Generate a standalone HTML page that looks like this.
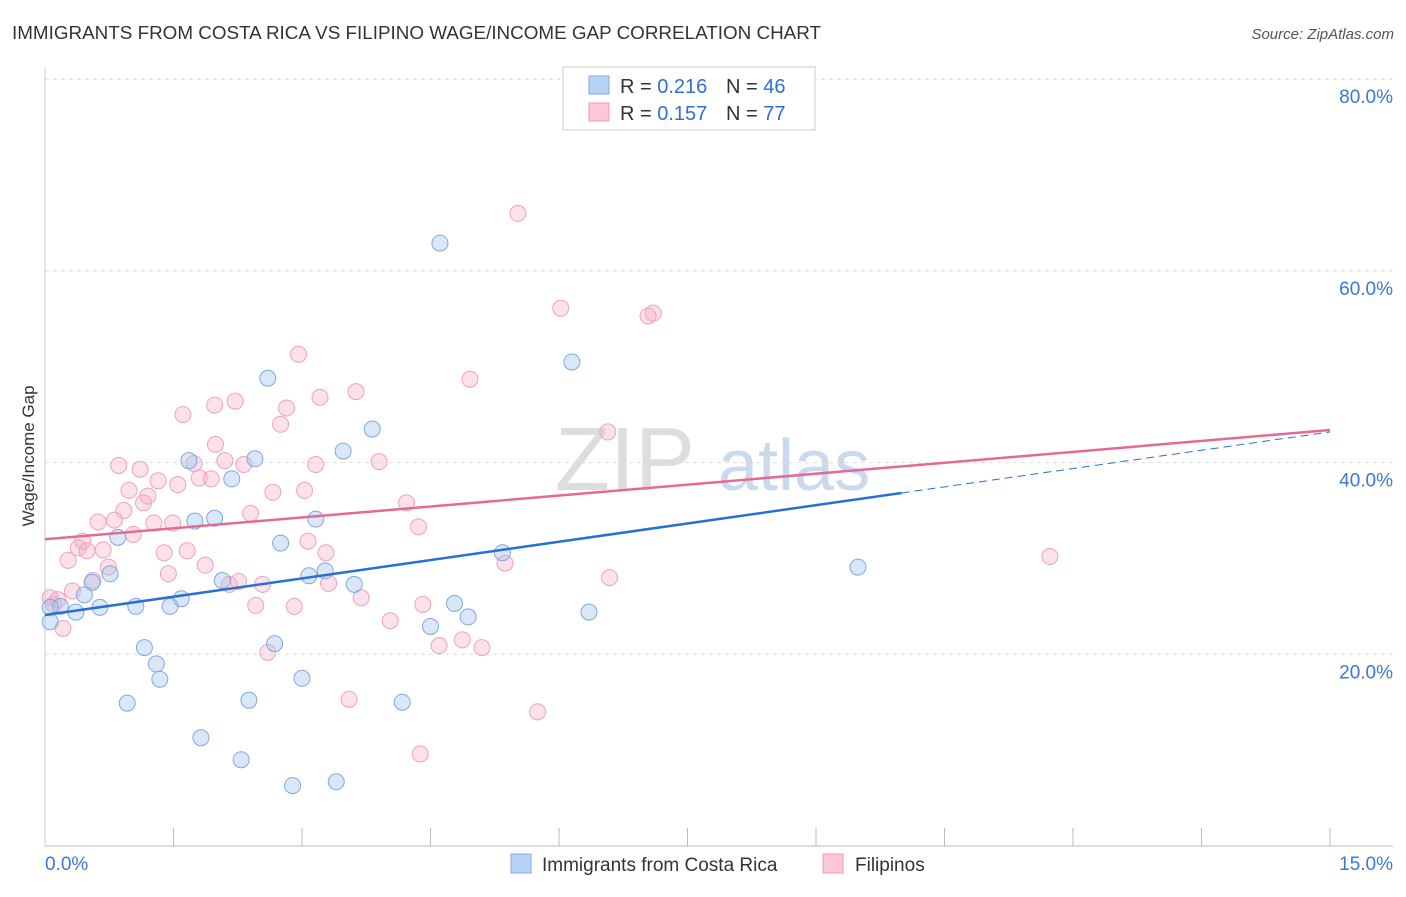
<!DOCTYPE html>
<html><head><meta charset="utf-8"><style>
body{margin:0;background:#fff;font-family:"Liberation Sans",sans-serif;}
svg text{font-family:"Liberation Sans",sans-serif;}
</style></head><body>
<svg id="c" width="1406" height="892" xmlns="http://www.w3.org/2000/svg">
<text x="12" y="39" font-size="18.5" fill="#333" textLength="809" lengthAdjust="spacingAndGlyphs">IMMIGRANTS FROM COSTA RICA VS FILIPINO WAGE/INCOME GAP CORRELATION CHART</text>
<text x="1394" y="39" font-size="15" fill="#555" text-anchor="end" font-style="italic">Source: ZipAtlas.com</text>
<text x="34" y="456" font-size="17" fill="#333" text-anchor="middle" transform="rotate(-90 34 456)">Wage/Income Gap</text>
<g><text x="555" y="490" font-size="90" fill="#ddd" font-family="Liberation Serif">ZIP</text><text x="718" y="490" font-size="72" fill="#c9d9ee">atlas</text></g>
<g id="grid"></g><g id="axes"></g><g id="pts"></g><g id="trend"></g>
<g>
<rect x="563" y="67" width="252" height="63" fill="#fff" stroke="#ccc"/>
<rect x="589" y="76" width="20" height="18" fill="#b8d3f5" stroke="#7fa9e0"/>
<rect x="589" y="103" width="20" height="18" fill="#fbc8d8" stroke="#ec9ab4"/>
<text x="620" y="93" font-size="20" fill="#333">R = <tspan fill="#2f6fd6">0.216</tspan></text>
<text x="726" y="93" font-size="20" fill="#333">N = <tspan fill="#2f6fd6">46</tspan></text>
<text x="620" y="120" font-size="20" fill="#333">R = <tspan fill="#2f6fd6">0.157</tspan></text>
<text x="726" y="120" font-size="20" fill="#333">N = <tspan fill="#2f6fd6">77</tspan></text>
</g>
<g>
<rect x="511" y="854" width="20" height="19" fill="#b8d3f5" stroke="#7fa9e0"/>
<text x="542" y="871" font-size="19" fill="#333">Immigrants from Costa Rica</text>
<rect x="823" y="854" width="20" height="19" fill="#fbc8d8" stroke="#ec9ab4"/>
<text x="855" y="871" font-size="19" fill="#333">Filipinos</text>
</g>
</svg>
<script>
const yTicks=[20,40,60,80];
const xTickLabels=["0.0%","15.0%"];
const blueX=[4.61,6.15,2.60,3.82,3.48,1.68,2.45,2.18,1.75,1.98,3.16,0.85,2.75,5.34,9.49,0.76,3.27,3.08,2.07,3.61,0.55,0.46,1.59,1.46,1.06,0.64,4.78,0.36,4.94,6.35,4.50,0.18,0.06,0.06,2.68,1.16,1.30,1.34,3.00,0.96,2.38,4.17,1.82,2.29,2.89,3.40];
const blueY=[62.9,50.5,48.8,43.5,41.2,40.2,40.4,38.3,33.9,34.2,34.1,32.2,31.6,30.6,29.1,28.4,28.7,28.2,27.7,27.3,27.5,26.2,25.8,25.0,25.0,24.9,25.3,24.4,23.9,24.4,22.9,25.0,24.9,23.4,21.1,20.7,19.0,17.4,17.5,14.9,15.2,15.0,11.3,9.0,6.3,6.7];
const pinkX=[5.52,6.02,7.10,7.04,2.96,4.96,3.63,3.21,2.22,1.98,2.82,1.61,2.75,6.57,1.99,2.10,1.74,2.32,3.16,3.90,0.86,1.11,1.32,1.80,1.94,1.55,0.98,2.66,3.03,1.20,1.15,4.22,0.92,2.40,0.81,0.62,1.27,1.49,4.36,1.03,0.44,3.07,0.39,0.49,0.68,1.39,1.66,3.28,0.27,11.73,5.37,1.87,0.74,1.44,6.59,0.56,2.15,2.26,2.54,3.31,0.32,3.69,0.06,0.15,2.46,2.91,4.41,4.03,0.21,4.87,4.60,5.10,2.60,3.55,5.75,4.38,0.10];
const pinkY=[66.0,56.1,55.6,55.3,51.3,48.7,47.4,46.8,46.4,46.0,45.7,45.0,44.0,43.2,41.9,40.2,39.9,39.8,39.8,40.1,39.7,39.3,38.1,38.4,38.3,37.7,37.1,36.9,37.1,36.5,35.8,35.8,35.0,34.7,34.0,33.8,33.7,33.7,33.3,32.5,31.8,31.8,31.1,30.8,30.9,30.6,30.8,30.6,29.8,30.2,29.5,29.3,29.1,28.4,28.0,27.7,27.3,27.6,27.3,27.4,26.6,25.9,25.9,25.7,25.1,25.0,25.2,23.5,22.7,21.5,20.9,20.7,20.2,15.3,14.0,9.6,25.2];
const blueTrend=[24.1,43.2], pinkTrend=[32.0,43.4], blueSolidEnd=10.0;
const NS="http://www.w3.org/2000/svg";
const X=v=>45+v*(1285/15), Y=v=>846-v*9.585;
function mk(t,a,p){const e=document.createElementNS(NS,t);for(const k in a)e.setAttribute(k,a[k]);p.appendChild(e);return e;}
const grid=document.getElementById('grid'),axes=document.getElementById('axes'),pts=document.getElementById('pts'),tr=document.getElementById('trend');
yTicks.forEach(t=>{
 const l=mk('line',{x1:45,x2:1393,y1:Y(t),y2:Y(t),stroke:'#ddd','stroke-dasharray':'4,4'},grid);
 
 
 const tx=mk('text',{x:1393,y:Y(t)+24,'font-size':19,fill:'#3a78d8','text-anchor':'end'},grid);
 tx.textContent=t.toFixed(1)+'%';
 
 
});
const ax=mk('line',{x1:45,x2:1393,y1:846,y2:846,stroke:'#bbb'},axes);


const ay=mk('line',{x1:45,x2:45,y1:67,y2:846,stroke:'#ccc'},axes);


for(let i=1;i<=10;i++){const t=mk('line',{x1:X(i*1.5),x2:X(i*1.5),y1:828,y2:846,stroke:'#bbb'},axes);
 
 }
const xl0=mk('text',{x:45,y:870,'font-size':19,fill:'#3a78d8'},axes);xl0.textContent=xTickLabels[0];


const xl1=mk('text',{x:1393,y:870,'font-size':19,fill:'#3a78d8','text-anchor':'end'},axes);xl1.textContent=xTickLabels[1];


pinkX.forEach((v,i)=>{const c=mk('circle',{cx:X(v),cy:Y(pinkY[i]),r:8,fill:'rgba(246,170,196,0.35)',stroke:'#eea2bb','stroke-width':1},pts);
 
 });
blueX.forEach((v,i)=>{const c=mk('circle',{cx:X(v),cy:Y(blueY[i]),r:8,fill:'rgba(160,196,240,0.4)',stroke:'#7fa9e0','stroke-width':1},pts);
 
 });
const by=x=>blueTrend[0]+(blueTrend[1]-blueTrend[0])*x/15;
const b1=mk('line',{x1:X(0),y1:Y(blueTrend[0]),x2:X(blueSolidEnd),y2:Y(by(blueSolidEnd)),stroke:'#2a6fd6','stroke-width':2.5},tr);


const b2=mk('line',{x1:X(blueSolidEnd),y1:Y(by(blueSolidEnd)),x2:X(15),y2:Y(blueTrend[1]),stroke:'#2a6fd6','stroke-width':1,'stroke-dasharray':'8,5'},tr);


const p1=mk('line',{x1:X(0),y1:Y(pinkTrend[0]),x2:X(15),y2:Y(pinkTrend[1]),stroke:'#e46a94','stroke-width':2.5},tr);


</script>
</body></html>
